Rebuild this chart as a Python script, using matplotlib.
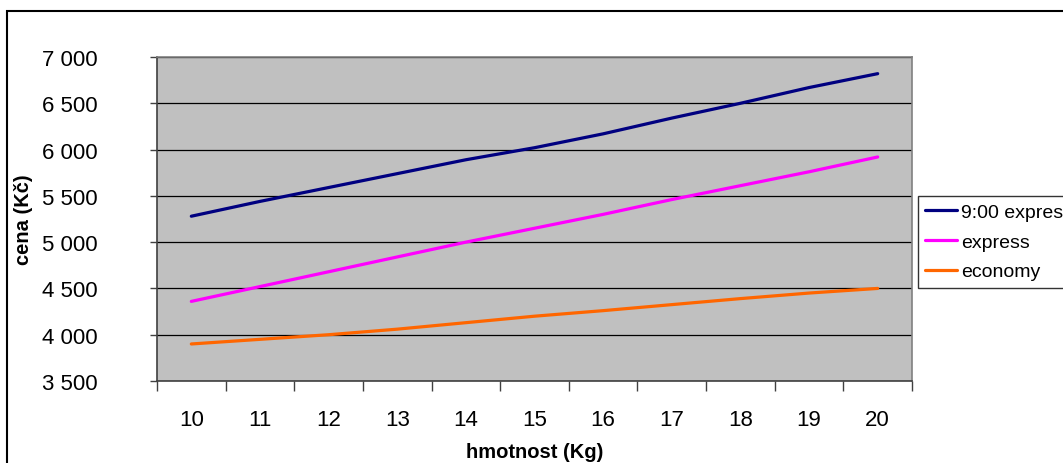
import matplotlib
matplotlib.use("Agg")
import matplotlib.pyplot as plt
from matplotlib.patches import Rectangle
from matplotlib.ticker import FuncFormatter, FixedLocator

plt.rcParams['font.family'] = ['Liberation Sans', 'DejaVu Sans']

# data
weights = [10, 11, 12, 13, 14, 15, 16, 17, 18, 19, 20]
express_900 = [5280, 5440, 5590, 5740, 5890, 6020, 6170, 6340, 6500, 6670, 6820]
express = [4360, 4520, 4680, 4840, 5000, 5150, 5300, 5460, 5610, 5760, 5920]
economy = [3900, 3950, 4000, 4060, 4130, 4200, 4260, 4325, 4390, 4450, 4500]
series_names = ['9:00 express', 'express', 'economy']
colors = ['#000080', '#FF00FF', '#FF6600']

W, H = 1063, 464
fig = plt.figure(figsize=(W / 100, H / 100), dpi=100)
ax = fig.add_axes([157 / W, 1 - 382 / H, (912 - 157) / W, (382 - 58) / H])
ax.set_facecolor('#C0C0C0')

for vals, name, c in zip([express_900, express, economy], series_names, colors):
    ax.plot(weights, vals, color=c, lw=2.3, label=name, solid_capstyle='round')

ax.set_xlim(weights[0] - 0.5, weights[-1] + 0.5)
ax.set_ylim(3500, 7000)
ax.set_yticks(range(3500, 7001, 500))
ax.yaxis.set_major_formatter(FuncFormatter(lambda v, p: f'{int(v):,}'.replace(',', ' ')))
ax.yaxis.grid(True, color='black', lw=0.9)
ax.set_axisbelow(True)

# category axis: ticks between categories, labels at centres
ax.xaxis.set_major_locator(FixedLocator([w - 0.5 for w in weights] + [weights[-1] + 0.5]))
ax.xaxis.set_major_formatter(FuncFormatter(lambda v, p: ''))
ax.xaxis.set_minor_locator(FixedLocator(weights))
ax.xaxis.set_minor_formatter(FuncFormatter(lambda v, p: f'{int(round(v))}'))
ax.tick_params(axis='x', which='major', length=7, width=1, color='#404040')
ax.tick_params(axis='x', which='minor', length=0, pad=20, labelsize=16)
ax.tick_params(axis='y', length=5, width=1, color='#404040', labelsize=16, pad=38)

for s in ['top', 'right']:
    ax.spines[s].set_color('#808080')
for s in ['left', 'bottom']:
    ax.spines[s].set_color('#404040')
for s in ax.spines.values():
    s.set_linewidth(1.2)

ax.set_xlabel('hmotnost (Kg)', fontsize=14.5, fontweight='bold', labelpad=9)
ax.set_ylabel('cena (Kč)', fontsize=14.5, fontweight='bold')
ax.yaxis.set_label_coords((33 - 157) / 755, 0.5)

leg = fig.legend(loc='upper left', bbox_to_anchor=(918 / W, 1 - 197 / H),
                 fontsize=14, frameon=True, fancybox=False, edgecolor='black',
                 handlelength=1.65, handletextpad=0.2, borderpad=0.38,
                 labelspacing=0.62, borderaxespad=0)
leg.get_frame().set_linewidth(1.0)

# outer chart border
fig.patches.append(Rectangle((7 / W, -0.05), 1.1, 1 - 12 / H + 0.05,
                             transform=fig.transFigure, fill=False,
                             edgecolor='black', lw=1.5))

fig.savefig('out.png', dpi=100)
